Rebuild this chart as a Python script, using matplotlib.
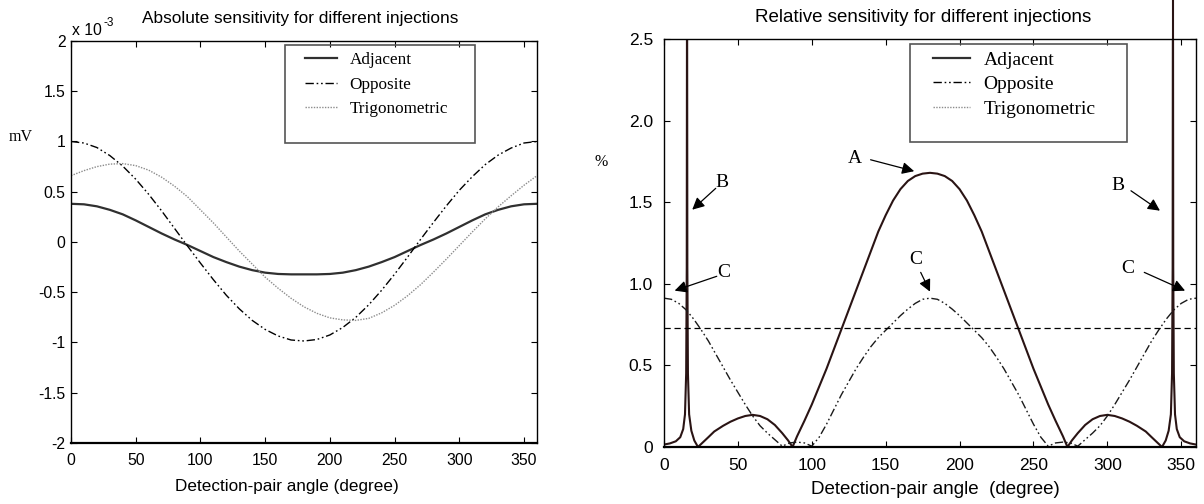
import numpy as np
import matplotlib
matplotlib.use("Agg")
import matplotlib.pyplot as plt
from matplotlib.lines import Line2D
from matplotlib.patches import Rectangle

plt.rcParams['font.family'] = ['Liberation Sans', 'DejaVu Sans']
plt.rcParams['axes.unicode_minus'] = False

# ---- left panel: absolute sensitivity (values in units of 1e-3 mV) ----
abs_angle = [0, 10, 20, 30, 40, 50, 60, 70, 80, 90, 100, 110, 120, 130, 140, 150, 160, 170, 180,
             190, 200, 210, 220, 230, 240, 250, 260, 270, 280, 290, 300, 310, 320, 330, 340, 350, 360]
abs_adjacent = [0.38, 0.375, 0.355, 0.32, 0.275, 0.215, 0.15, 0.085, 0.025, -0.03, -0.09, -0.15, -0.2,
                -0.245, -0.28, -0.305, -0.318, -0.322, -0.322, -0.322, -0.318, -0.305, -0.28, -0.245,
                -0.2, -0.15, -0.09, -0.03, 0.025, 0.085, 0.15, 0.215, 0.275, 0.32, 0.355, 0.375, 0.38]
abs_opposite = [1.0, 0.985, 0.94, 0.86, 0.755, 0.625, 0.475, 0.31, 0.135, -0.04, -0.21, -0.375, -0.53,
                -0.665, -0.78, -0.87, -0.935, -0.975, -0.985, -0.97, -0.925, -0.85, -0.75, -0.625,
                -0.48, -0.32, -0.15, 0.025, 0.195, 0.36, 0.515, 0.65, 0.77, 0.865, 0.935, 0.985, 1.0]
abs_trig = [0.66, 0.71, 0.75, 0.775, 0.78, 0.76, 0.715, 0.645, 0.555, 0.45, 0.32, 0.19, 0.05, -0.09,
            -0.22, -0.35, -0.46, -0.56, -0.645, -0.71, -0.755, -0.775, -0.78, -0.76, -0.705, -0.63,
            -0.535, -0.425, -0.3, -0.17, -0.035, 0.1, 0.23, 0.35, 0.46, 0.565, 0.66]

# ---- right panel: relative sensitivity (%) ----
rel_adj_angle = [0, 4, 8, 11, 13, 14.2, 15, 15.4, 15.6, 15.8, 16.2, 17, 18.5, 20.5, 23, 30, 34, 40, 45,
                 50, 55, 60, 65, 70, 75, 80, 84, 87, 90, 95, 100, 105, 110, 115, 120, 125, 130, 135,
                 140, 145, 150, 155, 160, 165, 170, 175, 180, 185, 190, 195, 200, 205, 210, 215, 220,
                 225, 230, 235, 240, 245, 250, 255, 260, 265, 270, 273, 276, 280, 285, 290, 295, 300,
                 305, 310, 315, 320, 326, 330, 337, 339.5, 341.5, 343, 343.8, 344.2, 344.4, 344.6, 345,
                 345.8, 347, 349, 352, 356, 360]
rel_adjacent = [0.015, 0.022, 0.035, 0.06, 0.11, 0.2, 0.45, 1.1, 3.2, 1.1, 0.45, 0.2, 0.1, 0.04, 0.0,
                0.06, 0.095, 0.13, 0.155, 0.175, 0.19, 0.197, 0.19, 0.17, 0.135, 0.085, 0.04, 0.0,
                0.065, 0.16, 0.26, 0.37, 0.48, 0.6, 0.72, 0.84, 0.96, 1.08, 1.2, 1.32, 1.42, 1.51,
                1.58, 1.63, 1.66, 1.675, 1.68, 1.675, 1.66, 1.63, 1.58, 1.51, 1.42, 1.32, 1.2, 1.08,
                0.96, 0.84, 0.72, 0.6, 0.48, 0.37, 0.26, 0.16, 0.065, 0.0, 0.04, 0.085, 0.135, 0.17,
                0.19, 0.197, 0.19, 0.175, 0.155, 0.13, 0.095, 0.06, 0.0, 0.04, 0.1, 0.2, 0.45, 1.1,
                3.2, 1.1, 0.45, 0.2, 0.11, 0.06, 0.035, 0.022, 0.015]
rel_opp_angle = list(range(0, 365, 5))
rel_opposite = [0.912, 0.905, 0.88, 0.84, 0.785, 0.72, 0.65, 0.57, 0.49, 0.41, 0.335, 0.26, 0.19, 0.13,
                0.085, 0.045, 0.005, 0.025, 0.03, 0.025, 0.005, 0.06, 0.14, 0.23, 0.32, 0.40, 0.48,
                0.55, 0.615, 0.67, 0.715, 0.76, 0.805, 0.845, 0.88, 0.905, 0.912, 0.905, 0.88, 0.845,
                0.805, 0.76, 0.715, 0.67, 0.615, 0.55, 0.48, 0.40, 0.32, 0.23, 0.14, 0.06, 0.005,
                0.025, 0.03, 0.025, 0.005, 0.045, 0.085, 0.13, 0.19, 0.26, 0.335, 0.41, 0.49, 0.57,
                0.65, 0.72, 0.785, 0.84, 0.88, 0.905, 0.912]
rel_trig_angle = [0, 360]
rel_trig = [0.73, 0.73]

series_names = ['Adjacent', 'Opposite', 'Trigonometric']
x_ticks = [0, 50, 100, 150, 200, 250, 300, 350]
abs_yticks = [-2, -1.5, -1, -0.5, 0, 0.5, 1, 1.5, 2]
abs_ytick_labels = ['-2', '-1.5', '-1', '-0.5', '0', '0.5', '1', '1.5', '2']
rel_yticks = [0, 0.5, 1.0, 1.5, 2.0, 2.5]
rel_ytick_labels = ['0', '0.5', '1.0', '1.5', '2.0', '2.5']

# annotations on the right panel: (label, text xy, arrow tail, arrow head)
notes = [('A', (129, 1.765), (139.8, 1.76), (169.3, 1.69)),
         ('B', (39.4, 1.618), (35, 1.585), (19.1, 1.454)),
         ('C', (40.1, 1.07), (35.7, 1.046), (7.2, 0.958)),
         ('C', (170.3, 1.146), (173.7, 1.07), (180, 0.952)),
         ('B', (307.4, 1.601), (316, 1.57), (335.6, 1.448)),
         ('C', (313.7, 1.095), (325, 1.07), (352.6, 0.958))]

dashdotdot = (0, (6, 2, 1.2, 2, 1.2, 2))
serif = ['Liberation Serif', 'DejaVu Serif']

fig = plt.figure(figsize=(12.04, 5.04), dpi=100)
W, H = 1204, 504
ax1 = fig.add_axes([71 / W, 1 - 443 / H, 466 / W, 402 / H])
ax2 = fig.add_axes([664 / W, 1 - 447 / H, 532 / W, 408 / H])

# left panel
ax1.plot(abs_angle, abs_adjacent, color='#303030', lw=1.6)
ax1.plot(abs_angle, abs_opposite, color='black', lw=1.0, ls=dashdotdot)
ax1.plot(abs_angle, abs_trig, color='#8c8c8c', lw=1.0, ls=(0, (1, 1)))
ax1.set_xlim(0, 360)
ax1.set_ylim(-2, 2)
ax1.set_xticks(x_ticks)
ax1.set_yticks(abs_yticks)
ax1.set_yticklabels(abs_ytick_labels)
ax1.tick_params(direction='in', top=True, right=True, length=4.5, width=0.8, labelsize=11.3)
ax1.tick_params(axis='y', pad=4)
ax1.tick_params(axis='x', pad=7)

# right panel
ax2.plot(rel_adj_angle, rel_adjacent, color='#2a1414', lw=1.5)
ax2.plot(rel_opp_angle, rel_opposite, color='#1a1a1a', lw=1.0, ls=dashdotdot)
ax2.plot(rel_trig_angle, rel_trig, color='black', lw=0.9, ls=(0, (5, 3)))
# right spike runs out through the top of the frame
spike_i = int(np.argmax(rel_adjacent[len(rel_adjacent) // 2:])) + len(rel_adjacent) // 2
ax2.plot([rel_adj_angle[spike_i]] * 2, [2.5, 2.9], color='#2a1414', lw=1.5, clip_on=False)
ax2.set_xlim(0, 360)
ax2.set_ylim(0, 2.5)
ax2.set_xticks(x_ticks)
ax2.set_yticks(rel_yticks)
ax2.set_yticklabels(rel_ytick_labels)
ax2.tick_params(direction='in', top=True, right=True, length=4.5, width=0.8, labelsize=12.5)
ax2.tick_params(axis='y', pad=8)
ax2.tick_params(axis='x', pad=8)

for ax in (ax1, ax2):
    for s in ax.spines.values():
        s.set_linewidth(1.0)
    ax.spines['bottom'].set_linewidth(1.6)

for lab, txy, tail, head in notes:
    ax2.text(txy[0], txy[1], lab, family=serif, fontsize=14, ha='center', va='center')
    ax2.annotate('', xy=head, xytext=tail,
                 arrowprops=dict(arrowstyle='-|>', color='black', lw=0.9, mutation_scale=18,
                                 shrinkA=0, shrinkB=0))

# legends (same style in both panels)
handles = [Line2D([], [], color='#303030', lw=1.6),
           Line2D([], [], color='black', lw=1.0, ls=dashdotdot),
           Line2D([], [], color='#8c8c8c', lw=1.0, ls=(0, (1, 1)))]
leg1 = ax1.legend(handles, series_names, loc='upper left', bbox_to_anchor=(0.502, 0.972),
                  borderaxespad=0, borderpad=0, frameon=False, handlelength=1.9,
                  handletextpad=0.7, labelspacing=0.5, prop={'family': serif, 'size': 12.3})
ax1.add_patch(Rectangle((0.46, 0.747), 0.408, 0.242, transform=ax1.transAxes, fill=False,
                        ec='#555555', lw=1.2, zorder=5))
leg2 = ax2.legend(handles, series_names, loc='upper left', bbox_to_anchor=(0.506, 0.97),
                  borderaxespad=0, borderpad=0, frameon=False, handlelength=1.9,
                  handletextpad=0.7, labelspacing=0.35, prop={'family': serif, 'size': 14})
ax2.add_patch(Rectangle((0.4624, 0.747), 0.408, 0.241, transform=ax2.transAxes, fill=False,
                        ec='#555555', lw=1.2, zorder=5))

# titles, axis labels
fig.text(300 / W, 1 - 18 / H, 'Absolute sensitivity for different injections', ha='center',
         va='center', fontsize=12.4)
fig.text(923 / W, 1 - 18 / H, 'Relative sensitivity for different injections', ha='center',
         va='center', fontsize=13.5)
fig.text(287 / W, 1 - 487 / H, 'Detection-pair angle (degree)', ha='center', va='center',
         fontsize=12.3)
fig.text(935 / W, 1 - 490 / H, 'Detection-pair angle  (degree)', ha='center', va='center',
         fontsize=13.5)
fig.text(21 / W, 1 - 137 / H, 'mV', ha='center', va='center', family=serif, fontsize=11.5)
fig.text(601 / W, 1 - 162 / H, '%', ha='center', va='center', family=serif, fontsize=11.5)
fig.text(72 / W, 1 - 35 / H, 'x 10', ha='left', va='baseline', fontsize=11.3)
fig.text(104 / W, 1 - 26 / H, '-3', ha='left', va='baseline', fontsize=8.5)

fig.savefig('out.png', dpi=100)
